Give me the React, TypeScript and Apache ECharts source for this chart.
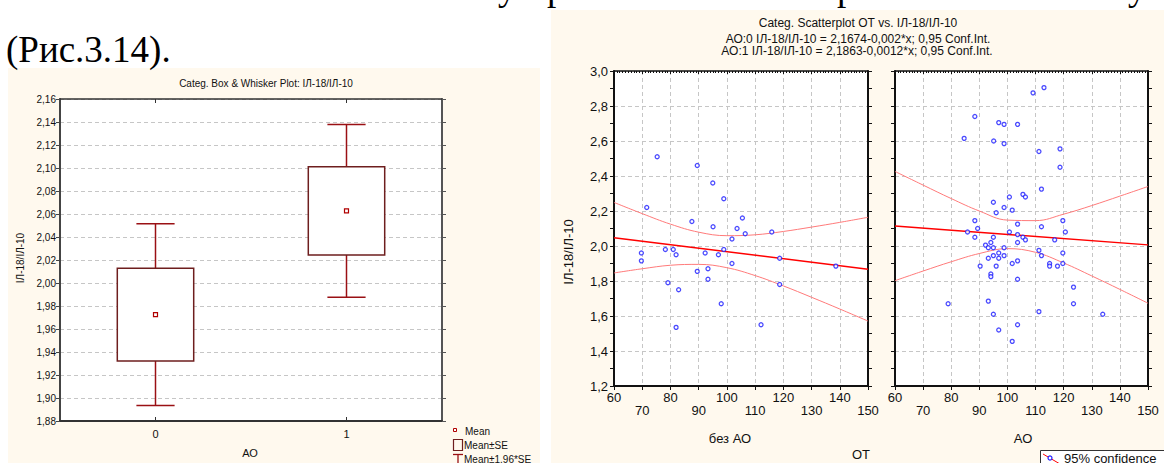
import React, { useEffect, useRef } from 'react';
import * as echarts from 'echarts';

// Box & whisker plot: ІЛ-18/ІЛ-10 by group АО (mean, standard error)
const boxCategories = ['0', '1'];
const boxMeans = [1.9725, 2.0627];
const boxSE = [0.0403, 0.0383];
const seFactor = 1.96;

// Scatter, group АО = 0 (без АО): ОТ and ІЛ-18/ІЛ-10
const otNoAO = [75.3, 89.5, 95.0, 98.9, 71.6, 87.6, 105.5, 95.1, 103.6, 106.5, 115.9, 101.8, 69.7, 69.7, 78.2, 81.0, 82.0, 92.3, 97.0, 98.9, 101.8, 118.7, 138.6, 89.5, 93.3, 93.3, 79.1, 82.9, 98.0, 82.0, 112.1, 118.7];
const ilNoAO = [2.51, 2.46, 2.36, 2.27, 2.22, 2.14, 2.16, 2.11, 2.10, 2.07, 2.08, 2.04, 1.96, 1.915, 1.98, 1.98, 1.95, 1.96, 1.95, 1.98, 1.90, 1.93, 1.885, 1.855, 1.87, 1.81, 1.79, 1.75, 1.67, 1.535, 1.55, 1.78];

// Scatter, group АО = 1
const otAO = [109.1, 113.0, 88.4, 96.9, 98.8, 103.6, 84.6, 95.1, 98.8, 111.2, 118.7, 118.7, 112.1, 105.5, 106.4, 100.7, 95.0, 98.8, 101.7, 96.0, 88.4, 103.6, 119.7, 89.4, 112.1, 85.8, 100.7, 120.6, 103.6, 88.4, 95.0, 105.5, 106.4, 116.8, 103.6, 94.1, 92.2, 93.2, 95.0, 98.8, 96.9, 95.0, 98.8, 93.2, 96.9, 111.2, 112.1, 119.7, 101.7, 103.6, 90.3, 96.0, 115.0, 115.0, 117.8, 119.7, 94.1, 94.1, 103.6, 123.5, 123.5, 78.9, 93.2, 95.0, 111.2, 133.9, 103.6, 96.9, 101.7];
const ilAO = [2.875, 2.905, 2.74, 2.705, 2.695, 2.695, 2.615, 2.60, 2.585, 2.54, 2.555, 2.45, 2.325, 2.295, 2.28, 2.28, 2.25, 2.22, 2.205, 2.19, 2.145, 2.125, 2.145, 2.10, 2.11, 2.08, 2.08, 2.08, 2.065, 2.05, 2.05, 2.05, 2.035, 2.035, 2.02, 2.02, 2.005, 1.99, 1.99, 1.99, 1.96, 1.945, 1.945, 1.93, 1.93, 1.975, 1.945, 1.96, 1.90, 1.915, 1.885, 1.885, 1.90, 1.885, 1.885, 1.90, 1.84, 1.825, 1.81, 1.765, 1.67, 1.67, 1.685, 1.61, 1.625, 1.61, 1.55, 1.52, 1.455];

// Fitted lines ІЛ-18/ІЛ-10 = a + b*x for АО = 0 and АО = 1
const fitIntercept = [2.1674, 2.1863];
const fitSlope = [-0.002, -0.0012];

// 0.95 confidence bands of the fitted lines
const bandX = [60, 70, 80, 90, 100, 110, 120, 130, 140, 150];
const bandUpperNoAO = [2.249, 2.185, 2.125, 2.079, 2.059, 2.064, 2.083, 2.108, 2.135, 2.164];
const bandLowerNoAO = [1.846, 1.870, 1.890, 1.895, 1.876, 1.831, 1.772, 1.707, 1.640, 1.571];
const bandUpperAO = [2.426, 2.348, 2.271, 2.200, 2.148, 2.145, 2.182, 2.231, 2.285, 2.340];
const bandLowerAO = [1.802, 1.857, 1.910, 1.957, 1.985, 1.964, 1.903, 1.829, 1.752, 1.673];

const OT_MIN = 60;
const OT_MAX = 150;

const SANS = '"Liberation Sans", Arial, sans-serif';
const SERIF = '"Liberation Serif", "Times New Roman", serif';
const CREAM = '#fff9ee';
const BOX_STROKE = '#6e1e1e';
const WHISKER = '#9a1014';
const POINT = '#1c1cff';
const FIT = '#ff0000';
const BAND = '#ff7a7a';

const comma = (v: number, d: number) => v.toFixed(d).replace('.', ',');
const num = (v: number) => String(v).replace('.', ',');

const gridDash = { type: [4, 3] as any, color: '#c6c6c6', width: 1 };

function text(x: number, y: number, str: string, size: number, opts: any = {}) {
  return {
    type: 'text',
    x,
    y,
    rotation: opts.rotation || 0,
    z: 50,
    silent: true,
    style: {
      text: str,
      fill: opts.fill || '#111',
      font: `${size}px ${opts.family || SANS}`,
      textAlign: opts.align || 'center',
      textVerticalAlign: 'middle',
    },
  };
}

function pairs(xs: number[], ys: number[]) {
  return xs.map((x, i) => [x, ys[i]]);
}

function fitLine(g: number) {
  return [OT_MIN, OT_MAX].map((x) => [x, fitIntercept[g] + fitSlope[g] * x]);
}

function valueX(grid: number, top: boolean) {
  return {
    type: 'value',
    gridIndex: grid,
    min: OT_MIN,
    max: OT_MAX,
    interval: 10,
    position: top ? 'top' : 'bottom',
    axisLine: { show: true, onZero: false, lineStyle: { color: '#111', width: top ? 1.5 : 2 } },
    axisTick: top
      ? { show: true, inside: true, length: 3, lineStyle: { color: '#111' } }
      : { show: true, inside: false, length: 4, lineStyle: { color: '#111' } },
    minorTick: top ? { show: true, splitNumber: 10, length: 2, lineStyle: { color: '#111' } } : { show: false },
    axisLabel: top
      ? { show: false }
      : {
          show: true,
          fontSize: 13,
          fontFamily: SANS,
          color: '#111',
          margin: 5,
          lineHeight: 13,
          showMinLabel: true,
          showMaxLabel: true,
          formatter: (v: number) => (Math.round(v / 10) % 2 === 0 ? String(v) : '\n' + v),
        },
    splitLine: top ? { show: false } : { show: true, lineStyle: gridDash },
  };
}

function valueY(grid: number, side: 'left' | 'right', labels: boolean, split: boolean) {
  return {
    type: 'value',
    gridIndex: grid,
    min: 1.2,
    max: 3.0,
    interval: 0.2,
    position: side,
    axisLine: { show: true, onZero: false, lineStyle: { color: '#111', width: 2 } },
    axisTick: { show: true, inside: false, length: 4, lineStyle: { color: '#111' } },
    minorTick: { show: true, splitNumber: 2, length: 4, lineStyle: { color: '#111' } },
    axisLabel: labels
      ? { show: true, fontSize: 13, fontFamily: SANS, color: '#111', margin: 6, formatter: (v: number) => comma(v, 1) }
      : { show: false },
    splitLine: split ? { show: true, lineStyle: gridDash } : { show: false },
  };
}

export default function App() {
  const ref = useRef<HTMLDivElement>(null);

  useEffect(() => {
    if (!ref.current) return;
    const chart = echarts.init(ref.current, undefined, { renderer: 'svg' });

    const boxData = boxCategories.map((_, i) => [i, boxMeans[i], boxSE[i]]);

    const renderBox = (params: any, api: any) => {
      const idx = api.value(0);
      const mean = api.value(1);
      const se = api.value(2);
      const band = api.size([1, 0])[0];
      const boxW = band * 0.4;
      const capW = band * 0.2;
      const [cx, yMean] = api.coord([idx, mean]);
      const yTop = api.coord([idx, mean + se])[1];
      const yBot = api.coord([idx, mean - se])[1];
      const yHi = api.coord([idx, mean + seFactor * se])[1];
      const yLo = api.coord([idx, mean - seFactor * se])[1];
      const wStyle = { stroke: WHISKER, lineWidth: 1.5 };
      return {
        type: 'group',
        children: [
          { type: 'line', shape: { x1: cx, y1: yHi, x2: cx, y2: yLo }, style: wStyle },
          { type: 'line', shape: { x1: cx - capW / 2, y1: yHi, x2: cx + capW / 2, y2: yHi }, style: wStyle },
          { type: 'line', shape: { x1: cx - capW / 2, y1: yLo, x2: cx + capW / 2, y2: yLo }, style: wStyle },
          {
            type: 'rect',
            shape: { x: cx - boxW / 2, y: yTop, width: boxW, height: yBot - yTop },
            style: { fill: '#ffffff', stroke: BOX_STROKE, lineWidth: 1.5 },
          },
          {
            type: 'rect',
            shape: { x: cx - 2, y: yMean - 2, width: 4, height: 4 },
            style: { fill: '#ffffff', stroke: '#b00000', lineWidth: 1.2 },
          },
        ],
      };
    };

    const scatterStyle = {
      symbol: 'circle',
      symbolSize: 4,
      itemStyle: { color: '#ffffff', borderColor: POINT, borderWidth: 1.3 },
      z: 5,
    };
    const fitStyle = { type: 'line', symbol: 'none', showSymbol: false, lineStyle: { color: FIT, width: 1.4 }, z: 3 };
    const bandStyle = { type: 'line', symbol: 'none', showSymbol: false, smooth: 0.4, lineStyle: { color: BAND, width: 1 }, z: 3 };

    const titleLines = [
      'Categ. Scatterplot ОТ vs. ІЛ-18/ІЛ-10',
      ...fitIntercept.map((a, g) => `АО:${g} ІЛ-18/ІЛ-10 = ${num(a)}${num(fitSlope[g])}*x; 0,95 Conf.Int.`),
    ];

    chart.setOption({
      animation: false,
      backgroundColor: '#ffffff',
      grid: [
        { left: 60, top: 99, width: 382, height: 322, show: true, backgroundColor: '#ffffff', borderWidth: 0 },
        { left: 614, top: 71, width: 254, height: 315, show: true, backgroundColor: '#ffffff', borderWidth: 0 },
        { left: 895, top: 71, width: 253, height: 315, show: true, backgroundColor: '#ffffff', borderWidth: 0 },
      ],
      xAxis: [
        {
          type: 'category',
          gridIndex: 0,
          data: boxCategories,
          position: 'bottom',
          boundaryGap: true,
          axisLine: { show: true, onZero: false, lineStyle: { color: '#333', width: 2 } },
          axisTick: { show: true, inside: true, alignWithLabel: true, length: 4, lineStyle: { color: '#333' } },
          axisLabel: { fontSize: 11, fontFamily: SANS, color: '#111', margin: 7 },
          splitLine: { show: false },
        },
        {
          type: 'category',
          gridIndex: 0,
          data: boxCategories,
          position: 'top',
          boundaryGap: true,
          axisLine: { show: true, onZero: false, lineStyle: { color: '#333', width: 1.5 } },
          axisTick: { show: true, inside: true, alignWithLabel: true, length: 4, lineStyle: { color: '#333' } },
          axisLabel: { show: false },
          splitLine: { show: false },
        },
        valueX(1, false),
        valueX(1, true),
        valueX(2, false),
        valueX(2, true),
      ],
      yAxis: [
        {
          type: 'value',
          gridIndex: 0,
          min: 1.88,
          max: 2.16,
          interval: 0.02,
          position: 'left',
          axisLine: { show: true, onZero: false, lineStyle: { color: '#444', width: 2 } },
          axisTick: { show: true, inside: false, length: 4, lineStyle: { color: '#444' } },
          axisLabel: { fontSize: 10, fontFamily: SANS, color: '#111', margin: 4, formatter: (v: number) => comma(v, 2) },
          splitLine: { show: true, lineStyle: gridDash },
        },
        {
          type: 'value',
          gridIndex: 0,
          min: 1.88,
          max: 2.16,
          interval: 0.02,
          position: 'right',
          axisLine: { show: true, onZero: false, lineStyle: { color: '#555', width: 2 } },
          axisTick: { show: true, inside: false, length: 4, lineStyle: { color: '#555' } },
          axisLabel: { show: false },
          splitLine: { show: false },
        },
        valueY(1, 'left', true, true),
        valueY(1, 'right', false, false),
        valueY(2, 'left', false, true),
        valueY(2, 'right', false, false),
      ],
      series: [
        {
          type: 'custom',
          xAxisIndex: 0,
          yAxisIndex: 0,
          data: boxData,
          encode: { x: 0, y: 1 },
          renderItem: renderBox,
          z: 4,
        },
        { type: 'scatter', xAxisIndex: 2, yAxisIndex: 2, data: pairs(otNoAO, ilNoAO), ...scatterStyle },
        { ...fitStyle, xAxisIndex: 2, yAxisIndex: 2, data: fitLine(0) },
        { ...bandStyle, xAxisIndex: 2, yAxisIndex: 2, data: pairs(bandX, bandUpperNoAO) },
        { ...bandStyle, xAxisIndex: 2, yAxisIndex: 2, data: pairs(bandX, bandLowerNoAO) },
        { type: 'scatter', xAxisIndex: 4, yAxisIndex: 4, data: pairs(otAO, ilAO), ...scatterStyle },
        { ...fitStyle, xAxisIndex: 4, yAxisIndex: 4, data: fitLine(1) },
        { ...bandStyle, xAxisIndex: 4, yAxisIndex: 4, data: pairs(bandX, bandUpperAO) },
        { ...bandStyle, xAxisIndex: 4, yAxisIndex: 4, data: pairs(bandX, bandLowerAO) },
      ],
      graphic: {
        elements: [
          // panel backgrounds
          { type: 'rect', z: -10, silent: true, shape: { x: 8, y: 68, width: 532, height: 395 }, style: { fill: CREAM } },
          { type: 'rect', z: -10, silent: true, shape: { x: 551, y: 10, width: 613, height: 453 }, style: { fill: CREAM } },

          // surrounding document text (the line above runs off the top edge)
          text(6, 49.5, '(Рис.3.14).', 37, { family: SERIF, align: 'left', fill: '#000' }),
          text(498, -13, 'у', 37, { family: SERIF, align: 'left', fill: '#000' }),
          text(547, -13, 'р', 37, { family: SERIF, align: 'left', fill: '#000' }),
          text(837, -13, 'р', 37, { family: SERIF, align: 'left', fill: '#000' }),
          text(1128, -13, 'у', 37, { family: SERIF, align: 'left', fill: '#000' }),

          // box & whisker texts
          text(266, 83, 'Categ. Box & Whisker Plot: ІЛ-18/ІЛ-10', 10),
          text(20, 258, 'ІЛ-18/ІЛ-10', 10, { rotation: Math.PI / 2 }),
          text(250, 453, 'АО', 11),

          // box & whisker legend
          { type: 'rect', z: 50, silent: true, shape: { x: 453.5, y: 428.5, width: 3, height: 3 }, style: { fill: '#fff', stroke: '#b00000', lineWidth: 1 } },
          text(465, 431, 'Mean', 10, { align: 'left' }),
          { type: 'rect', z: 50, silent: true, shape: { x: 453.5, y: 439.5, width: 9, height: 11 }, style: { fill: 'none', stroke: BOX_STROKE, lineWidth: 1.2 } },
          text(464, 445, 'Mean±SE', 10, { align: 'left' }),
          { type: 'line', z: 50, silent: true, shape: { x1: 453, y1: 454.5, x2: 463, y2: 454.5 }, style: { stroke: WHISKER, lineWidth: 1.3 } },
          { type: 'line', z: 50, silent: true, shape: { x1: 458, y1: 454.5, x2: 458, y2: 464 }, style: { stroke: WHISKER, lineWidth: 1.3 } },
          text(464, 459, 'Mean±1.96*SE', 10, { align: 'left' }),

          // scatterplot texts
          text(858, 23, titleLines[0], 12),
          text(858, 38.5, titleLines[1], 12),
          text(857, 51, titleLines[2], 12),
          text(568, 252, 'ІЛ-18/ІЛ-10', 13, { rotation: Math.PI / 2 }),
          text(730, 438, 'без АО', 13),
          text(1023, 438, 'АО', 13),
          text(861, 454, 'ОТ', 13),

          // scatterplot legend
          { type: 'rect', z: 50, silent: true, shape: { x: 1040.5, y: 450.5, width: 140, height: 30 }, style: { fill: '#ffffff', stroke: '#333', lineWidth: 1 } },
          { type: 'line', z: 51, silent: true, shape: { x1: 1043, y1: 454, x2: 1060, y2: 464 }, style: { stroke: FIT, lineWidth: 1 } },
          { type: 'circle', z: 52, silent: true, shape: { cx: 1050, cy: 458, r: 2 }, style: { fill: '#ffffff', stroke: POINT, lineWidth: 1.2 } },
          text(1064, 458, '95% confidence', 13, { align: 'left' }),
        ],
      },
    });

    return () => chart.dispose();
  }, []);

  return <div ref={ref} style={{ position: 'fixed', left: 0, top: 0, width: 1164, height: 463 }} />;
}
